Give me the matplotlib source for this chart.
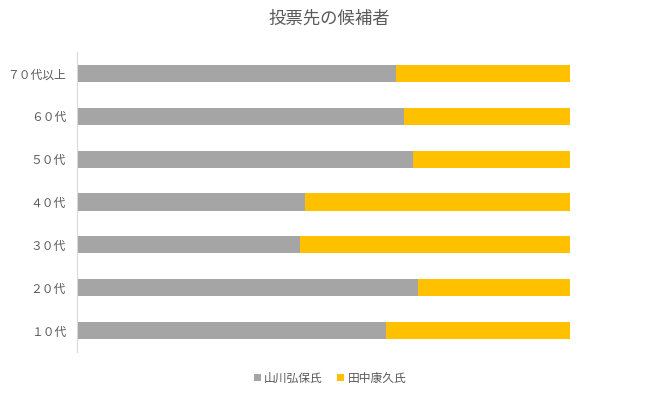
import matplotlib.pyplot as plt
import numpy as np

plt.rcParams['font.family'] = ['Noto Sans CJK JP', 'DejaVu Sans']

# 年代別（下から上）
categories = ['１０代', '２０代', '３０代', '４０代', '５０代', '６０代', '７０代以上']
yamakawa = [0.627, 0.692, 0.452, 0.462, 0.682, 0.663, 0.647]
tanaka = [1 - v for v in yamakawa]
series_names = ['山川弘保氏', '田中康久氏']

fig = plt.figure(figsize=(6.59, 3.96), dpi=100)
ax = fig.add_axes([77 / 659, 1 - 352 / 396, (570 - 77) / 659, 300 / 396])

y = np.arange(len(categories))
ax.barh(y, yamakawa, height=0.4, color='#a5a5a5', label=series_names[0])
ax.barh(y, tanaka, left=yamakawa, height=0.4, color='#ffc000', label=series_names[1])

ax.set_xlim(0, 1)
ax.set_ylim(-0.5, len(categories) - 0.5)
ax.set_yticks(y)
ax.set_yticklabels(categories, color='#595959', fontsize=8.5)
ax.tick_params(axis='y', length=0, pad=8)
ax.set_xticks([])
for s in ['top', 'right', 'bottom']:
    ax.spines[s].set_visible(False)
ax.spines['left'].set_color('#d9d9d9')

fig.text(0.5, 1 - 19 / 396, '投票先の候補者', ha='center', va='center', fontsize=12.5, color='#595959')

leg = fig.legend(loc='center', bbox_to_anchor=(330 / 659, 1 - 378 / 396), ncol=2, frameon=False,
                 fontsize=8.5, handlelength=0.6, handleheight=0.6, handletextpad=0.3, columnspacing=1.2)
for t in leg.get_texts():
    t.set_color('#595959')

plt.savefig('out.png', dpi=100)
plt.close()
